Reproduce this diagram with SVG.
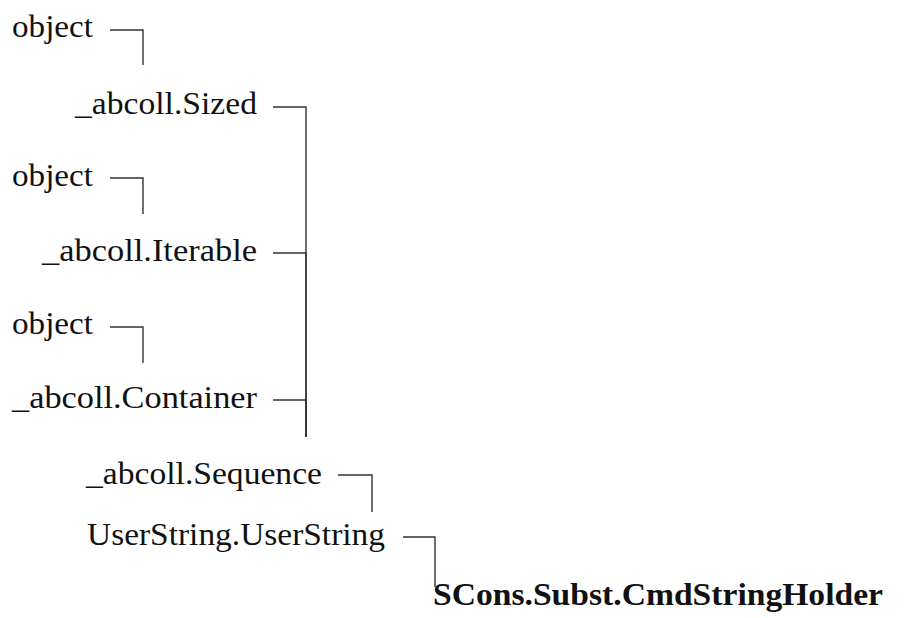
<svg xmlns="http://www.w3.org/2000/svg" width="904" height="618" viewBox="0 0 904 618">
<style>
.t{font-family:'Liberation Serif',serif;font-size:31px;fill:#111}
.b{font-weight:bold}
.e{fill:none;stroke:#333;stroke-width:1.4}
</style>
<rect width="904" height="618" fill="#fff"/>
<g id="edges">
<path class="e" d="M110,30 H143 V65"/>
<path class="e" d="M110,178 H143 V214"/>
<path class="e" d="M110,327 H143 V363"/>
<path class="e" d="M273,107 H306 V437"/>
<path class="e" d="M273,253 H306 V437"/>
<path class="e" d="M273,400 H306 V437"/>
<path class="e" d="M338,475 H372 V512"/>
<path class="e" d="M403,537 H435 V587"/>
</g>
<g id="object1"><text class="t" x="12" y="37" textLength="81" lengthAdjust="spacingAndGlyphs">object</text></g>
<g id="sized"><text class="t" x="75" y="114" textLength="182" lengthAdjust="spacingAndGlyphs">_abcoll.Sized</text></g>
<g id="object2"><text class="t" x="12" y="186" textLength="81" lengthAdjust="spacingAndGlyphs">object</text></g>
<g id="iterable"><text class="t" x="42" y="261" textLength="215" lengthAdjust="spacingAndGlyphs">_abcoll.Iterable</text></g>
<g id="object3"><text class="t" x="12" y="334" textLength="81" lengthAdjust="spacingAndGlyphs">object</text></g>
<g id="container"><text class="t" x="12" y="408" textLength="245" lengthAdjust="spacingAndGlyphs">_abcoll.Container</text></g>
<g id="sequence"><text class="t" x="86" y="484" textLength="236" lengthAdjust="spacingAndGlyphs">_abcoll.Sequence</text></g>
<g id="userstring"><text class="t" x="87" y="545" textLength="298" lengthAdjust="spacingAndGlyphs">UserString.UserString</text></g>
<g id="cmdstringholder"><text class="t b" x="433" y="605" textLength="450" lengthAdjust="spacingAndGlyphs">SCons.Subst.CmdStringHolder</text></g>
</svg>
